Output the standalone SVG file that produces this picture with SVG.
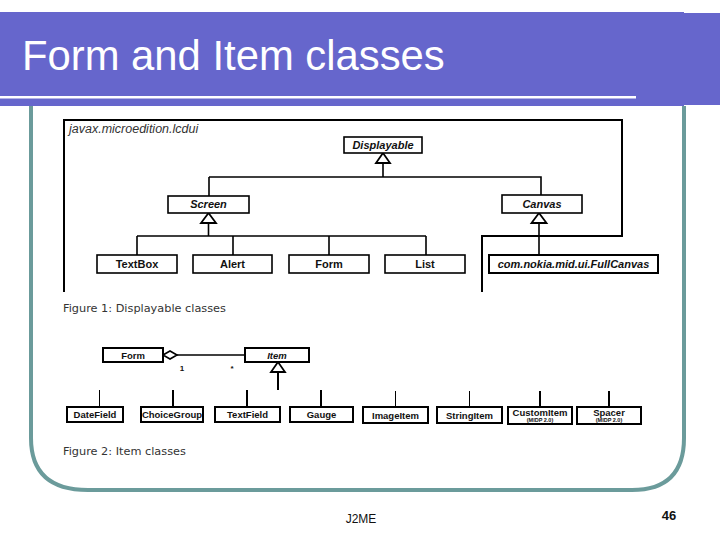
<svg xmlns="http://www.w3.org/2000/svg" width="720" height="540" viewBox="0 0 720 540">
<style>
.box{fill:#fff;stroke:#000;stroke-width:1.6}
.box2{fill:#fff;stroke:#000;stroke-width:2}
.t1{font-family:"Liberation Sans",Arial,sans-serif;font-size:11px;font-weight:bold;fill:#111;text-anchor:middle}
.t1i{font-family:"Liberation Sans",Arial,sans-serif;font-size:11px;font-weight:bold;font-style:italic;fill:#111;text-anchor:middle}
.t2{font-family:"Liberation Sans",Arial,sans-serif;font-size:9.5px;font-weight:bold;fill:#111;text-anchor:middle}
.t2i{font-family:"Liberation Sans",Arial,sans-serif;font-size:9.5px;font-weight:bold;font-style:italic;fill:#111;text-anchor:middle}
.small{font-family:"Liberation Sans",Arial,sans-serif;font-size:5.5px;font-weight:bold;fill:#111;text-anchor:middle}
.cap{font-family:"DejaVu Sans","Liberation Sans",sans-serif;font-size:11.3px;fill:#333}
.ln{fill:none;stroke:#000;stroke-width:1.6}
.thin{fill:none;stroke:#000;stroke-width:1}
.thick{fill:none;stroke:#000;stroke-width:2}
.tri{fill:#fff;stroke:#000;stroke-width:1.8}
</style>
<rect width="720" height="540" fill="#fff"/>
<!-- title bar -->
<rect x="0" y="12" width="684" height="94" fill="#6666CC"/>
<rect x="683" y="13" width="37" height="92" fill="#6666CC"/>
<rect x="0" y="96" width="636" height="2.5" fill="#fff"/>
<text x="22" y="70" font-family="'Liberation Sans',Arial,sans-serif" font-size="41.8" fill="#fff">Form and Item classes</text>
<!-- rounded frame -->
<path d="M31,106 V438 Q31,490 88,490 H632 Q684,490 684,438 V106" fill="none" stroke="#6B9B9B" stroke-width="4"/>
<!-- figure 1 package frame -->
<path d="M64,292 V120 H622 V236 H482 V292" class="thick"/>
<text x="69" y="133" font-family="'Liberation Sans',Arial,sans-serif" font-size="12.5" font-style="italic" fill="#333">javax.microedition.lcdui</text>
<g id="connectors">
<path class="ln" d="M383,163 V177 M209,177 H541 V195 M209,177 V196"/>
<path class="ln" d="M208.5,223 V236 M137,236 H426 M137,236 V255 M233,236 V255 M329,236 V255 M426,236 V255"/>
<path class="ln" d="M539,223 V255"/>
<polygon class="tri" points="383,153 376,163 390,163"/>
<polygon class="tri" points="208.5,213 201,223 216,223"/>
<polygon class="tri" points="539,213 531.5,223 546.5,223"/>
<!-- figure 2 -->
<path class="ln" d="M177,355 H245"/>
<polygon fill="#fff" stroke="#000" stroke-width="1.6" points="163,355 170,351 177,355 170,359"/>
<polygon class="tri" points="278,362 271,372 285,372"/>
<path class="thick" d="M278,372 V390"/>
<path class="thin" d="M99.5,390 V407 M395.5,391 V407 M469.5,391 V407"/>
<path class="thick" d="M173,390 V407 M247,390 V407 M321,390 V407 M540,391 V407 M609,391 V407"/>
<text x="182" y="371" font-family="'Liberation Sans',Arial,sans-serif" font-size="8" font-weight="bold" fill="#111" text-anchor="middle">1</text>
<text x="232" y="371" font-family="'Liberation Sans',Arial,sans-serif" font-size="8" font-weight="bold" fill="#111" text-anchor="middle">*</text>
</g>
<g id="displayable"><rect class="box" x="344" y="137" width="78" height="16"/><text class="t1i" x="383" y="149">Displayable</text></g>
<g id="screen"><rect class="box" x="168" y="196" width="81" height="17"/><text class="t1i" x="208.5" y="208">Screen</text></g>
<g id="canvas"><rect class="box" x="502" y="195" width="80" height="18"/><text class="t1i" x="542" y="208">Canvas</text></g>
<g id="textbox"><rect class="box" x="97" y="255" width="80" height="18"/><text class="t1" x="137" y="268">TextBox</text></g>
<g id="alert"><rect class="box" x="193" y="255" width="79" height="18"/><text class="t1" x="232.5" y="268">Alert</text></g>
<g id="form1"><rect class="box" x="289" y="255" width="80" height="18"/><text class="t1" x="329" y="268">Form</text></g>
<g id="list"><rect class="box" x="385" y="255" width="80" height="18"/><text class="t1" x="425" y="268">List</text></g>
<g id="fullcanvas"><rect class="box2" x="489" y="255" width="169" height="18"/><text class="t1i" x="573.5" y="268" font-size="11.5">com.nokia.mid.ui.FullCanvas</text></g>
<text class="cap" x="63" y="312">Figure 1: Displayable classes</text>
<g id="form2"><rect class="box2" x="103" y="348" width="60" height="14"/><text class="t2" x="133" y="358.5">Form</text></g>
<g id="item"><rect class="box2" x="245" y="348" width="64" height="14"/><text class="t2i" x="277" y="358.5">Item</text></g>
<g id="datefield"><rect class="box2" x="67" y="407" width="56" height="15"/><text class="t2" x="95" y="418">DateField</text></g>
<g id="choicegroup"><rect class="box2" x="141" y="407" width="62" height="15"/><text class="t2" x="172" y="418">ChoiceGroup</text></g>
<g id="textfield"><rect class="box2" x="215" y="407" width="65" height="15"/><text class="t2" x="247.5" y="418">TextField</text></g>
<g id="gauge"><rect class="box2" x="290" y="407" width="63" height="15"/><text class="t2" x="321.5" y="418">Gauge</text></g>
<g id="imageitem"><rect class="box2" x="363" y="407" width="65" height="16"/><text class="t2" x="395.5" y="418.5">ImageItem</text></g>
<g id="stringitem"><rect class="box2" x="437" y="407" width="65" height="16"/><text class="t2" x="469.5" y="418.5">StringItem</text></g>
<g id="customitem"><rect class="box2" x="508" y="407" width="64" height="17"/><text class="t2" x="540" y="415.5">CustomItem</text><text class="small" x="540" y="422">(MIDP 2.0)</text></g>
<g id="spacer"><rect class="box2" x="577" y="407" width="64" height="17"/><text class="t2" x="609" y="415.5">Spacer</text><text class="small" x="609" y="422">(MIDP 2.0)</text></g>
<text class="cap" x="63" y="455">Figure 2: Item classes</text>
<text x="361" y="523" font-family="'Liberation Sans',Arial,sans-serif" font-size="12" fill="#111" text-anchor="middle">J2ME</text>
<text x="669" y="520" font-family="'Liberation Sans',Arial,sans-serif" font-size="13" font-weight="bold" fill="#111" text-anchor="middle">46</text>
</svg>
